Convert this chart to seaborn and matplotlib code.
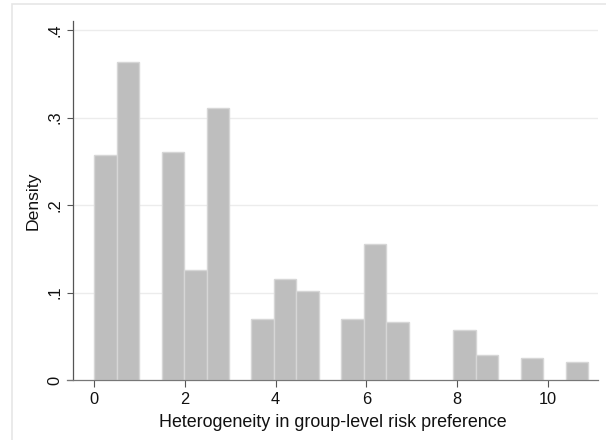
import numpy as np
import pandas as pd
import matplotlib
matplotlib.use("Agg")
import matplotlib.pyplot as plt
import seaborn as sns
from matplotlib.patches import Rectangle

# ---- data ----
bin_start = 0.0
bin_width = 0.495
densities = [0.257, 0.363, 0.0, 0.261, 0.126, 0.311, 0.0, 0.0695, 0.115, 0.102, 0.0,
             0.0695, 0.155, 0.066, 0.0, 0.0, 0.0577, 0.0286, 0.0, 0.0257, 0.0, 0.0203]
x_ticks = [0, 2, 4, 6, 8, 10]
x_ticklabels = ["0", "2", "4", "6", "8", "10"]
y_ticks = [0, 0.1, 0.2, 0.3, 0.4]
y_ticklabels = ["0", ".1", ".2", ".3", ".4"]
x_label = "Heterogeneity in group-level risk preference"
y_label = "Density"

n_bins = len(densities)
edges = bin_start + bin_width * np.arange(n_bins + 1)
centers = (edges[:-1] + edges[1:]) / 2
df = pd.DataFrame({"x": centers, "w": densities})

sns.set_theme(style="white")
plt.rcParams["font.family"] = ["Liberation Sans", "DejaVu Sans"]

W, H = 606, 440
fig = plt.figure(figsize=(W / 100, H / 100), dpi=100)
fig.patch.set_facecolor("white")

# outer graph-region frame (partially cropped in reference)
fig.add_artist(Rectangle((11.5 / W, -0.2), 2.0, (H - 4.3) / H + 0.2,
                         transform=fig.transFigure, fill=False,
                         edgecolor="#e6e6e6", linewidth=1.2))

left_px, right_px, top_px, bot_px = 67, 598, 20.7, 380
ax = fig.add_axes([left_px / W, (H - bot_px) / H,
                   (right_px - left_px) / W, (bot_px - top_px) / H])

sns.histplot(data=df, x="x", weights="w", bins=n_bins,
             binrange=(float(edges[0]), float(edges[-1])), stat="count",
             color="#bebebe", alpha=1.0, edgecolor="#d6d6d6", linewidth=1.0,
             ax=ax, zorder=2)
for p in ax.patches:
    if p.get_height() == 0:
        p.set_visible(False)

x0 = (left_px - 94.3) / 45.34
x1 = (right_px - 94.3) / 45.34
ax.set_xlim(x0, x1)
ax.set_ylim(0, (bot_px - top_px) / 875.0)

# spines
spine_off = 6 / (right_px - left_px)
for s in ["top", "right"]:
    ax.spines[s].set_visible(False)
ax.spines["left"].set_position(("axes", spine_off))
ax.spines["left"].set_color("#555555")
ax.spines["left"].set_linewidth(0.9)
ax.spines["bottom"].set_color("#777777")
ax.spines["bottom"].set_linewidth(0.9)
ax.spines["left"].set_zorder(5)
ax.spines["bottom"].set_zorder(5)

# horizontal gridlines from the y-axis to the right edge
x_spine = x0 + spine_off * (x1 - x0)
ax.hlines(y_ticks[1:], x_spine, x1, colors="#ececec", linewidth=1.0, zorder=1)

ax.set_xticks(x_ticks)
ax.set_xticklabels(x_ticklabels)
ax.set_yticks(y_ticks)
ax.set_yticklabels(y_ticklabels, rotation=90, va="center")
ax.tick_params(axis="x", direction="out", length=4.8, width=0.8, color="#555555",
               labelsize=11.8, pad=4.0, labelcolor="#111111", bottom=True)
ax.tick_params(axis="y", direction="out", length=4.3, width=0.8, color="#555555",
               labelsize=11.8, pad=3.0, labelcolor="#111111", left=True)
ax.grid(False)

ax.set_xlabel(x_label, fontsize=12.9, color="#111111", labelpad=5)
ax.set_ylabel(y_label, fontsize=12.6, color="#111111", labelpad=5)

fig.savefig("out.png", dpi=100, facecolor="white")
